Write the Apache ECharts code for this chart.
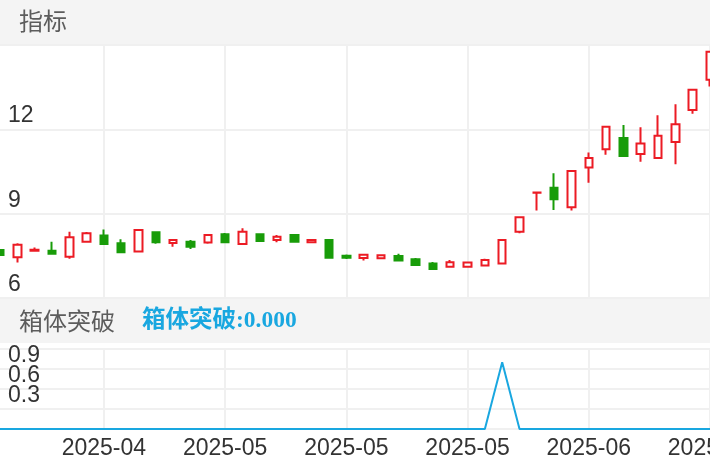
<!DOCTYPE html>
<html>
<head>
<meta charset="utf-8">
<script src="https://cdn.jsdelivr.net/npm/echarts@6/dist/echarts.min.js"></script>
<style>
html,body{margin:0;padding:0;background:#fff;}
#chart{width:710px;height:472px;}
</style>
</head>
<body>
<div id="chart"></div>
<script>
var dates = [
  '2025-04-22','2025-04-23','2025-04-24','2025-04-25','2025-04-28','2025-04-29','2025-04-30',
  '2025-05-01','2025-05-02','2025-05-05','2025-05-06','2025-05-07','2025-05-08','2025-05-09',
  '2025-05-12','2025-05-13','2025-05-14','2025-05-15','2025-05-16','2025-05-19','2025-05-20',
  '2025-05-21','2025-05-22','2025-05-23','2025-05-27','2025-05-28','2025-05-29','2025-05-30',
  '2025-06-02','2025-06-03','2025-06-04','2025-06-05','2025-06-06','2025-06-09','2025-06-10',
  '2025-06-11','2025-06-12','2025-06-13','2025-06-16','2025-06-17','2025-06-18','2025-06-20'
];
var openPrice  = [7.71,7.45,7.68,7.68,7.47,8.00,8.22,7.95,7.65,8.34,7.96,8.00,7.97,8.27,7.92,8.27,8.06,8.24,7.98,8.06,7.50,
                  7.42,7.41,7.49,7.38,7.23,7.11,7.11,7.16,7.23,8.36,9.74,9.92,9.23,10.64,11.29,11.69,11.12,10.98,11.55,12.69,13.76];
var closePrice = [7.53,7.89,7.72,7.57,8.16,8.30,7.92,7.63,8.42,7.98,8.06,7.82,8.24,7.98,8.36,8.03,8.18,8.00,8.06,7.43,7.43,
                  7.54,7.52,7.33,7.17,7.03,7.27,7.26,7.35,8.06,8.87,9.75,9.51,10.52,10.98,12.09,11.05,11.50,11.77,12.18,13.41,14.76];
var lowPrice   = [7.52,7.26,7.66,7.56,7.40,7.97,7.91,7.62,7.63,7.93,7.82,7.74,7.93,7.97,7.89,8.00,7.98,7.98,7.97,7.42,7.39,
                  7.33,7.40,7.32,7.16,7.02,7.10,7.09,7.15,7.22,8.30,9.11,9.13,9.11,10.10,11.10,11.04,10.85,10.97,10.76,12.55,13.52];
var highPrice  = [7.72,7.95,7.80,8.00,8.36,8.35,8.44,8.09,8.44,8.35,8.09,8.06,8.25,8.31,8.48,8.28,8.24,8.25,8.10,8.07,7.55,
                  7.55,7.53,7.57,7.42,7.28,7.35,7.27,7.40,8.07,8.88,9.75,10.44,10.53,11.18,12.10,12.15,12.07,12.50,12.89,13.42,14.77];
var breakout   = [0,0,0,0,0,0,0,0,0,0,0,0,0,0,0,0,0,0,0,0,0,0,0,0,0,0,0,0,0,1,0,0,0,0,0,0,0,0,0,0,0,0];
var mainTicks = {min: 6, max: 15, interval: 3};
var subTicks = {min: 0, max: 1.2, interval: 0.3};

var candleData = dates.map(function (d, i) {
  return [openPrice[i], closePrice[i], lowPrice[i], highPrice[i]];
});

var RED = '#ec1b24', GREEN = '#189c09', BLUE = '#19a7e0';
var GRID_COLOR = '#f0f0f0';
var NUM_FONT = "'Liberation Sans', Arial, Helvetica, sans-serif";
var CJK_FONT = "'Noto Sans CJK SC', sans-serif";
var every7 = function (idx) { return idx % 7 === 6; };

var chart = echarts.init(document.getElementById('chart'), null, {renderer: 'canvas'});
chart.setOption({
  animation: false,
  backgroundColor: '#fff',
  graphic: [
    {type: 'rect', z: -10, shape: {x: 0, y: 0, width: 710, height: 45}, style: {fill: '#f4f4f4'}},
    {type: 'rect', z: -10, shape: {x: 0, y: 299, width: 710, height: 44}, style: {fill: '#f4f4f4'}},
    {type: 'text', x: 19, y: 21, style: {text: '指标', fontSize: 24, fontFamily: CJK_FONT, fill: '#5c5c5c', verticalAlign: 'middle'}},
    {type: 'text', x: 19, y: 321, style: {text: '箱体突破', fontSize: 24, fontFamily: CJK_FONT, fill: '#5c5c5c', verticalAlign: 'middle'}},
    {type: 'text', x: 142, y: 321, style: {text: '箱体突破:0.000', fontSize: 23.5, fontWeight: 'bold', fontFamily: "'Liberation Serif', 'Noto Sans CJK SC', serif", fill: BLUE, verticalAlign: 'middle'}}
  ],
  grid: [
    {left: 0, right: 0, top: 45, height: 253, containLabel: false, outerBoundsMode: 'none'},
    {left: 0, right: 0, top: 349, height: 80, containLabel: false, outerBoundsMode: 'none'}
  ],
  xAxis: [
    {
      type: 'category', gridIndex: 0, data: dates, boundaryGap: false,
      axisLine: {show: false}, axisTick: {show: false}, axisLabel: {show: false, interval: every7},
      splitLine: {show: true, interval: every7, lineStyle: {color: GRID_COLOR, width: 2}}
    },
    {
      type: 'category', gridIndex: 1, data: dates, boundaryGap: false,
      axisLine: {show: false}, axisTick: {show: false},
      axisLabel: {
        show: true, interval: every7, margin: 8, color: '#333', fontSize: 23, fontFamily: NUM_FONT,
        hideOverlap: false,
        formatter: function (v) { return v.slice(0, 7); }
      },
      splitLine: {show: true, interval: every7, lineStyle: {color: GRID_COLOR, width: 2}}
    }
  ],
  yAxis: [
    {
      type: 'value', gridIndex: 0, min: mainTicks.min, max: mainTicks.max, interval: mainTicks.interval,
      axisLine: {show: false}, axisTick: {show: false},
      axisLabel: {
        inside: true, margin: 8, color: '#333', fontSize: 23, fontFamily: NUM_FONT,
        verticalAlign: 'bottom', padding: [0, 0, 2, 0], showMaxLabel: false
      },
      splitLine: {show: true, lineStyle: {color: GRID_COLOR, width: 2}}
    },
    {
      type: 'value', gridIndex: 1, min: subTicks.min, max: subTicks.max, interval: subTicks.interval,
      axisLine: {show: false}, axisTick: {show: false},
      axisLabel: {
        inside: true, margin: 8, color: '#333', fontSize: 23, fontFamily: NUM_FONT,
        verticalAlign: 'bottom', padding: [0, 0, 2, 0], showMaxLabel: false, showMinLabel: false
      },
      splitLine: {show: true, lineStyle: {color: GRID_COLOR, width: 2}}
    }
  ],
  series: [
    {
      type: 'candlestick', xAxisIndex: 0, yAxisIndex: 0, data: candleData,
      barWidth: 8,
      itemStyle: {color: '#ffffff', color0: GREEN, borderColor: RED, borderColor0: GREEN, borderWidth: 2}
    },
    {
      type: 'line', xAxisIndex: 1, yAxisIndex: 1, data: breakout,
      symbol: 'none', lineStyle: {color: BLUE, width: 2}, itemStyle: {color: BLUE}
    }
  ]
});
</script>
</body>
</html>
